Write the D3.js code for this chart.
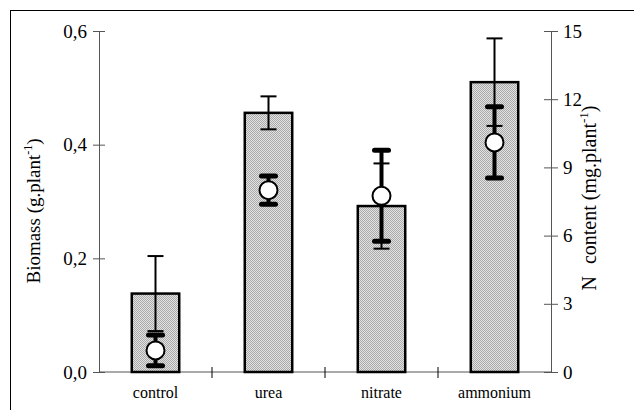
<!DOCTYPE html>
<html>
<head>
<meta charset="utf-8">
<script src="https://cdn.jsdelivr.net/npm/d3@7"></script>
<style>
  body { margin: 0; background: #fff; }
  svg text { font-family: "Liberation Serif", serif !important; }
</style>
</head>
<body>
<div id="myChart"></div>
<script>
// data
let treatments = ["control", "urea", "nitrate", "ammonium"];
let biomass    = [0.138, 0.456, 0.292, 0.510];
let biomassErr = [0.066, 0.029, 0.075, 0.077];
let nContent   = [0.95, 8.0, 7.75, 10.1];
let nErr       = [0.68, 0.62, 2.0, 1.57];
let leftTicks  = [0, 0.2, 0.4, 0.6];
let rightTicks = [0, 3, 6, 9, 12, 15];

let W = 634, H = 410;
let margin = { top: 31, right: 83, bottom: 38, left: 99 },
    width = W - margin.left - margin.right,
    height = H - margin.top - margin.bottom;

let root = d3.select("#myChart").append("svg")
  .attr("width", W)
  .attr("height", H);

// frame round the figure
root.append("rect")
  .attr("x", 10.5).attr("y", 10.5)
  .attr("width", W).attr("height", H)
  .attr("fill", "none").attr("stroke", "#000").attr("stroke-width", 1);

// dotted grey fill for the bars
let pat = root.append("defs").append("pattern")
  .attr("id", "dots")
  .attr("width", 2).attr("height", 2)
  .attr("patternUnits", "userSpaceOnUse");
pat.append("rect").attr("width", 2).attr("height", 2).attr("fill", "#e2e2e2");
pat.append("rect").attr("width", 1).attr("height", 1).attr("fill", "#aaaaaa");
pat.append("rect").attr("x", 1).attr("y", 1).attr("width", 1).attr("height", 1).attr("fill", "#aaaaaa");

let svg = root.append("g")
  .attr("transform", "translate(" + margin.left + "," + margin.top + ")");

let x = d3.scaleBand()
  .domain(treatments)
  .range([0, width])
  .paddingInner(0.58)
  .paddingOuter(0.29);
let step = x.step();

let y = d3.scaleLinear().domain([0, 0.6]).range([height, 0]);
let y2 = d3.scaleLinear().domain([0, 15]).range([height, 0]);

let axisCol = "#555";

// left axis
let gl = svg.append("g")
  .call(d3.axisLeft(y).tickValues(leftTicks).tickFormat(d => d3.format(".1f")(d).replace(".", ","))
    .tickSizeInner(6).tickSizeOuter(0).tickPadding(4));
gl.selectAll(".tick line").attr("x2", 6).attr("x1", -6);
gl.select(".domain").attr("stroke", axisCol);
gl.selectAll(".tick line").attr("stroke", axisCol);
gl.selectAll(".tick text").attr("x", -12).attr("font-size", 19).attr("fill", "#000");

// right axis
let gr = svg.append("g")
  .attr("transform", "translate(" + width + ",0)")
  .call(d3.axisRight(y2).tickValues(rightTicks).tickSizeInner(7).tickSizeOuter(0));
gr.selectAll(".tick line").attr("x1", -7).attr("x2", 7).attr("stroke", axisCol);
gr.select(".domain").attr("stroke", axisCol);
gr.selectAll(".tick text").attr("x", 12).attr("font-size", 19).attr("fill", "#000");

// bottom axis, ticks between categories
let boundaries = treatments.slice(1).map(t => x(t) - step * 0.29);
svg.append("line")
  .attr("x1", 0).attr("x2", width)
  .attr("y1", height).attr("y2", height)
  .attr("stroke", axisCol);
svg.selectAll(".xtick")
  .data(boundaries)
  .enter().append("line")
  .attr("x1", d => d).attr("x2", d => d)
  .attr("y1", height - 5).attr("y2", height + 6)
  .attr("stroke", "#000");
svg.selectAll(".xlab")
  .data(treatments)
  .enter().append("text")
  .attr("x", d => x(d) + x.bandwidth() / 2)
  .attr("y", height + 26)
  .attr("text-anchor", "middle")
  .attr("font-size", 16)
  .text(d => d);

// bars
svg.selectAll(".bar")
  .data(treatments)
  .enter().append("rect")
  .attr("x", d => x(d))
  .attr("width", x.bandwidth())
  .attr("y", (d, i) => y(biomass[i]))
  .attr("height", (d, i) => height - y(biomass[i]))
  .attr("fill", "url(#dots)")
  .attr("stroke", "#000")
  .attr("stroke-width", 2.5);

let cx = d => x(d) + x.bandwidth() / 2;

// biomass error bars (thin)
treatments.forEach((t, i) => {
  let hi = y(biomass[i] + biomassErr[i]), lo = y(biomass[i] - biomassErr[i]);
  svg.append("line").attr("x1", cx(t)).attr("x2", cx(t))
    .attr("y1", hi).attr("y2", lo).attr("stroke", "#000").attr("stroke-width", 2);
  [hi, lo].forEach(v => {
    svg.append("line").attr("x1", cx(t) - 8).attr("x2", cx(t) + 8)
      .attr("y1", v).attr("y2", v).attr("stroke", "#000").attr("stroke-width", 2);
  });
});

// N content error bars (thick) and circles
treatments.forEach((t, i) => {
  let hi = y2(nContent[i] + nErr[i]), lo = y2(nContent[i] - nErr[i]);
  svg.append("line").attr("x1", cx(t)).attr("x2", cx(t))
    .attr("y1", hi).attr("y2", lo).attr("stroke", "#000").attr("stroke-width", 4);
  [hi, lo].forEach(v => {
    svg.append("line").attr("x1", cx(t) - 7).attr("x2", cx(t) + 7)
      .attr("y1", v).attr("y2", v).attr("stroke", "#000")
      .attr("stroke-width", 5).attr("stroke-linecap", "round");
  });
});
svg.selectAll(".pt")
  .data(treatments)
  .enter().append("circle")
  .attr("cx", cx)
  .attr("cy", (d, i) => y2(nContent[i]))
  .attr("r", 9)
  .attr("fill", "#fff")
  .attr("stroke", "#000")
  .attr("stroke-width", 2);

// axis titles
let lt = root.append("text")
  .attr("transform", "translate(40,211) rotate(-90)")
  .attr("text-anchor", "middle")
  .attr("font-size", 19);
lt.append("tspan").text("Biomass (g.plant");
lt.append("tspan").attr("font-size", 12).attr("dy", -8).text("-1");
lt.append("tspan").attr("dy", 8).text(")");

let rt = root.append("text")
  .attr("transform", "translate(596,198) rotate(-90)")
  .attr("text-anchor", "middle")
  .attr("font-size", 20);
rt.append("tspan").text("N");
rt.append("tspan").attr("dx", 12).text("content (mg.plant");
rt.append("tspan").attr("font-size", 13).attr("dy", -8).text("-1");
rt.append("tspan").attr("dy", 8).text(")");
</script>
</body>
</html>
